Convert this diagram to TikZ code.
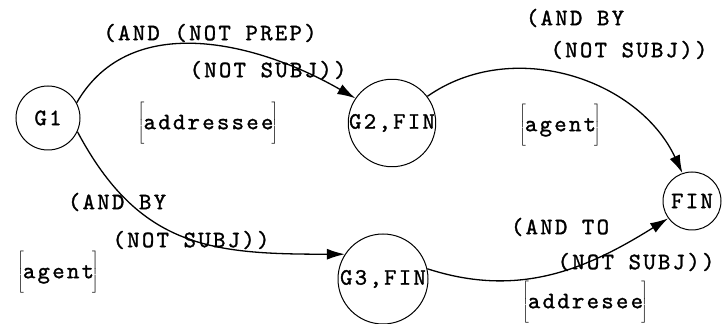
\documentclass[tikz,border=0pt]{standalone}
\usepackage{fontspec}
\usetikzlibrary{arrows.meta}
\newfontfamily\atnfont[LetterSpace=10,FakeBold=1.3]{lmmono10-regular.otf}
\newcommand\actbox[1]{$\left[\vcenter{\hbox{\rule{0pt}{44pt}}}\right.$\kern-2pt#1\kern-3pt$\left.\vcenter{\hbox{\rule{0pt}{44pt}}}\right]$}

\begin{document}
\begin{tikzpicture}[x=1pt,y=1pt,
        gnode/.style={circle, draw, line width=1pt, inner sep=0pt},
        arc/.style={line width=1.3pt, -{Latex[length=18pt,width=11pt]}},
        tlabel/.style={inner sep=0pt},
        every node/.style={font=\atnfont\fontsize{23.5}{27}\selectfont}]
            \useasboundingbox (0,0) rectangle (726,324);

            % States
            \node[gnode, minimum size=64pt] (G1) at (48,206) {G1};
            \node[gnode, minimum size=80pt] (G2) at (392,201) {G2,FIN};
            \node[gnode, minimum size=90pt] (G3) at (383,45) {G3,FIN};
            \node[gnode, minimum size=58pt] (FIN) at (692,123) {FIN};

            % Arcs
            \draw[arc] (G1.28) to[out=60, in=150] (G2.146);
            \draw[arc] (G2.37) to[out=35, in=115] (FIN.109);
            \draw[arc] (G1.-25) to[out=-62, in=180, looseness=1.15] (G3.147);
            \draw[arc] (G3.13) to[out=-18, in=212] (FIN.216);

            % Tests and actions
            \node[tlabel] (t12a) at (210,291) {(AND (NOT PREP)};
            \node[tlabel] (t12b) at (268,254) {(NOT SUBJ))};
            \node[tlabel] (a12) at (208,201) {\actbox{addressee}};
            \node[tlabel] (t2fa) at (575,306) {(AND BY};
            \node[tlabel] (t2fb) at (629,274) {(NOT SUBJ))};
            \node[tlabel] (a2f) at (560,199) {\actbox{agent}};
            \node[tlabel] (t13a) at (117,122) {(AND BY};
            \node[tlabel] (t13b) at (191,84) {(NOT SUBJ))};
            \node[tlabel] (a13) at (58,52) {\actbox{agent}};
            \node[tlabel] (t3fa) at (560,97) {(AND TO};
            \node[tlabel] (t3fb) at (636,62) {(NOT SUBJ))};
            \node[tlabel] (a3f) at (585,22) {\actbox{addresee}};
\end{tikzpicture}
\end{document}
